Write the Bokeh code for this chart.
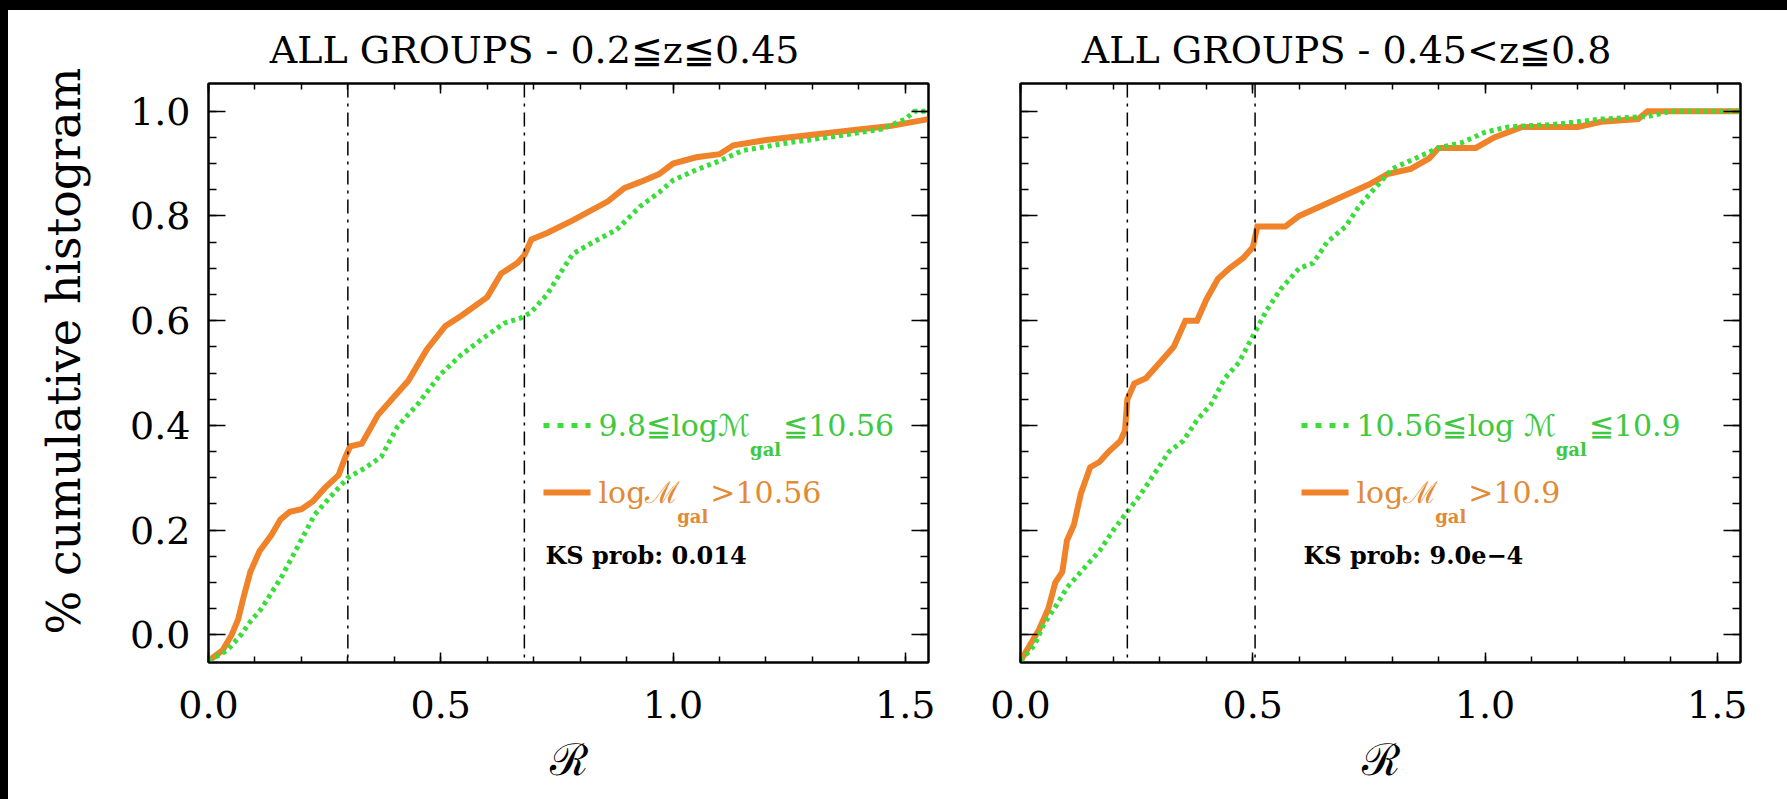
from bokeh.plotting import figure
from bokeh.models import Range1d, LinearAxis, FixedTicker, PrintfTickFormatter, CustomJSTickFormatter, Span, Label
from bokeh.layouts import row
from bokeh.embed import file_html
from bokeh.resources import INLINE

# ---------------- data ----------------
x_ticks = [0.0, 0.5, 1.0, 1.5]
x_minor = [0.0, 0.1, 0.2, 0.3, 0.4, 0.5, 0.6, 0.7, 0.8, 0.9, 1.0, 1.1, 1.2, 1.3, 1.4, 1.5]
y_ticks = [0.0, 0.2, 0.4, 0.6, 0.8, 1.0]
y_minor = [0.0, 0.05, 0.1, 0.15, 0.2, 0.25, 0.3, 0.35, 0.4, 0.45, 0.5, 0.55, 0.6, 0.65,
           0.7, 0.75, 0.8, 0.85, 0.9, 0.95, 1.0]

titles = ["ALL GROUPS - 0.2≦z≦0.45", "ALL GROUPS - 0.45<z≦0.8"]
y_label = "% cumulative histogram"
x_label = "ℛ"

# left panel (0.2<=z<=0.45)
left_R_high = [0.0, 0.03, 0.05, 0.064, 0.075, 0.09, 0.11, 0.135, 0.155, 0.175, 0.2, 0.225, 0.25,
               0.28, 0.295, 0.305, 0.33, 0.365, 0.4, 0.43, 0.47, 0.51, 0.545, 0.6, 0.63, 0.665,
               0.68, 0.695, 0.73, 0.785, 0.86, 0.895, 0.93, 0.97, 1.0, 1.05, 1.1, 1.13, 1.2,
               1.3, 1.4, 1.47, 1.55]
left_cum_high = [-0.05, -0.03, 0.0, 0.03, 0.07, 0.12, 0.16, 0.19, 0.22, 0.235, 0.24, 0.255, 0.28,
                 0.305, 0.34, 0.36, 0.365, 0.42, 0.455, 0.485, 0.545, 0.59, 0.61, 0.645, 0.69,
                 0.71, 0.725, 0.755, 0.768, 0.792, 0.828, 0.853, 0.865, 0.88, 0.9, 0.912, 0.918,
                 0.935, 0.945, 0.955, 0.965, 0.972, 0.985]
left_R_low = [0.0, 0.04, 0.07, 0.09, 0.114, 0.157, 0.193, 0.229, 0.264, 0.30, 0.336, 0.372, 0.407,
              0.45, 0.50, 0.543, 0.586, 0.636, 0.672, 0.693, 0.729, 0.764, 0.785, 0.828, 0.879,
              0.929, 0.97, 1.0, 1.05, 1.1, 1.15, 1.25, 1.35, 1.45, 1.5, 1.52, 1.55]
left_cum_low = [-0.05, -0.03, 0.0, 0.025, 0.05, 0.11, 0.17, 0.23, 0.265, 0.30, 0.318, 0.34, 0.398,
                0.44, 0.498, 0.534, 0.563, 0.595, 0.605, 0.615, 0.65, 0.70, 0.728, 0.75, 0.774,
                0.818, 0.845, 0.868, 0.888, 0.905, 0.925, 0.94, 0.952, 0.966, 0.985, 1.0, 1.0]
left_marks = [0.30, 0.68]

# right panel (0.45<z<=0.8)
right_R_high = [0.0, 0.02, 0.04, 0.06, 0.075, 0.09, 0.1, 0.115, 0.13, 0.15, 0.17, 0.19, 0.215,
                0.225, 0.23, 0.245, 0.27, 0.3, 0.33, 0.355, 0.38, 0.4, 0.425, 0.45, 0.48, 0.5,
                0.51, 0.57, 0.6, 0.65, 0.7, 0.75, 0.79, 0.84, 0.88, 0.9, 0.98, 1.02, 1.08, 1.2,
                1.25, 1.33, 1.35, 1.55]
right_cum_high = [-0.05, -0.02, 0.01, 0.05, 0.1, 0.12, 0.18, 0.21, 0.27, 0.32, 0.33, 0.35, 0.37,
                  0.39, 0.45, 0.48, 0.49, 0.52, 0.55, 0.6, 0.6, 0.64, 0.68, 0.7, 0.72, 0.74,
                  0.78, 0.78, 0.8, 0.82, 0.84, 0.86, 0.88, 0.89, 0.91, 0.93, 0.93, 0.95, 0.97,
                  0.97, 0.98, 0.985, 1.0, 1.0]
right_R_low = [0.0, 0.03, 0.05, 0.08, 0.1, 0.13, 0.17, 0.2, 0.23, 0.26, 0.29, 0.32, 0.35, 0.38,
               0.41, 0.44, 0.47, 0.5, 0.53, 0.56, 0.6, 0.63, 0.66, 0.7, 0.73, 0.76, 0.8, 0.85,
               0.9, 0.95, 1.0, 1.05, 1.15, 1.25, 1.35, 1.4, 1.55]
right_cum_low = [-0.05, -0.02, 0.02, 0.06, 0.09, 0.12, 0.16, 0.2, 0.235, 0.27, 0.31, 0.35, 0.37,
                 0.41, 0.44, 0.49, 0.52, 0.57, 0.62, 0.66, 0.7, 0.71, 0.75, 0.78, 0.82, 0.85,
                 0.89, 0.91, 0.93, 0.94, 0.96, 0.97, 0.975, 0.985, 0.99, 1.0, 1.0]
right_marks = [0.23, 0.505]

ks_texts = ["KS prob: 0.014", "KS prob: 9.0e−4"]

# ---------------- style ----------------
ORANGE = "#F0822A"
GREEN = "#3BDD3B"
ORANGE_TXT = "#E28A34"
GREEN_TXT = "#40C840"
FONT = "DejaVu Serif"
XMAX = 1.55
YMIN, YMAX = -0.053, 1.053
FW, FH = 720, 579
LEG_F = 30
SUB_F = 18

EM = {"0": .636, "1": .636, "2": .636, "3": .636, "4": .636, "5": .636, "6": .636, "7": .636,
      "8": .636, "9": .636, ".": .318, "≦": .838, ">": .838, "<": .838, "l": .32, "o": .602,
      "g": .635, "a": .596, " ": .318, "ℳ": 1.0, "A": .72, "L": .64, "G": .78, "R": .73,
      "O": .79, "U": .76, "P": .67, "S": .69, "-": .34, "z": .52}


def tw(s, size, k=1.0):
    return sum(EM.get(c, .6) for c in s) * size * k


def style_axis(ax, ticker, formatter, tick_in, minor_in, blank=False):
    ax.ticker = ticker
    ax.formatter = formatter
    ax.axis_line_color = "black"
    ax.axis_line_width = 2
    ax.major_tick_in = tick_in
    ax.major_tick_out = 0
    ax.minor_tick_in = minor_in
    ax.minor_tick_out = 0
    ax.major_tick_line_width = 1.5
    ax.minor_tick_line_width = 1.5
    ax.major_tick_line_color = "black"
    ax.minor_tick_line_color = "black"
    ax.major_label_text_font = FONT
    ax.major_label_text_color = "black"
    if blank:
        ax.major_label_text_font_size = "0px"
        ax.major_label_standoff = 0
    else:
        ax.major_label_text_font_size = "38px"


def legend_row(p, sx, sy, sample, main, sub, tail, color, txtcolor):
    x0 = sx / FW * XMAX
    x1 = (sx + 47) / FW * XMAX
    y = YMIN + sy / FH * (YMAX - YMIN)
    if sample == "dot":
        p.line([x0, x1], [y, y], line_color=color, line_width=5, line_dash="6 8")
    else:
        p.line([x0, x1], [y, y], line_color=color, line_width=6)
    tx = sx + 55
    p.add_layout(Label(x=tx, y=sy, x_units="screen", y_units="screen", text=main,
                       text_font=FONT, text_font_size=f"{LEG_F}px", text_color=txtcolor,
                       text_baseline="middle", text_align="left"))
    tx += tw(main, LEG_F) + 2
    p.add_layout(Label(x=tx, y=sy - 24, x_units="screen", y_units="screen", text=sub,
                       text_font=FONT, text_font_size=f"{SUB_F}px", text_font_style="bold",
                       text_color=txtcolor, text_baseline="middle", text_align="left"))
    tx += tw(sub, SUB_F, 1.08) + 3
    p.add_layout(Label(x=tx, y=sy, x_units="screen", y_units="screen", text=tail,
                       text_font=FONT, text_font_size=f"{LEG_F}px", text_color=txtcolor,
                       text_baseline="middle", text_align="left"))


def make_panel(idx, R_low, cum_low, R_high, cum_high, marks, leg, ks, first):
    if first:
        w, bl, br = 966, 200, 46
    else:
        w, bl, br = 813, 46, 47
    p = figure(width=w, height=789, x_range=Range1d(0, XMAX), y_range=Range1d(YMIN, YMAX),
               output_backend="svg", toolbar_location=None,
               min_border_left=bl, min_border_right=br, min_border_top=73, min_border_bottom=137)
    p.background_fill_color = "white"
    p.border_fill_color = "white"
    p.outline_line_color = "black"
    p.outline_line_width = 2
    p.xgrid.visible = False
    p.ygrid.visible = False

    # title (centre placed ~38 px left of the frame centre, as in the original)
    title_size = 38
    p.title.text = titles[idx]
    p.title.align = "left"
    p.title.offset = 322 - tw(titles[idx], title_size) / 2
    p.title.text_font = FONT
    p.title.text_font_size = f"{title_size}px"
    p.title.text_font_style = "normal"
    p.title.text_color = "black"
    p.title.vertical_align = "top"
    p.title.standoff = 20

    xt = FixedTicker(ticks=x_ticks, minor_ticks=x_minor)
    yt = FixedTicker(ticks=y_ticks, minor_ticks=y_minor)
    blank = CustomJSTickFormatter(code="return ''")

    xa = p.xaxis[0]
    style_axis(xa, xt, PrintfTickFormatter(format="%.1f"), 10, 6)
    xa.major_label_standoff = 28
    xa.axis_label = x_label
    xa.axis_label_text_font = FONT
    xa.axis_label_text_font_size = "44px"
    xa.axis_label_text_font_style = "normal"
    xa.axis_label_text_color = "black"
    xa.axis_label_standoff = 13

    ya = p.yaxis[0]
    if first:
        style_axis(ya, yt, PrintfTickFormatter(format="%.1f"), 17, 8)
        ya.major_label_standoff = 18
        # leading no-break spaces lift the label slightly above the frame centre, as in the original
        ya.axis_label = "\u00a0\u00a0\u00a0" + y_label
        ya.axis_label_text_font = FONT
        ya.axis_label_text_font_size = "46px"
        ya.axis_label_text_font_style = "normal"
        ya.axis_label_text_color = "black"
        ya.axis_label_standoff = 36
    else:
        style_axis(ya, yt, blank, 17, 8, blank=True)

    top = LinearAxis()
    style_axis(top, FixedTicker(ticks=x_ticks, minor_ticks=x_minor), blank, 10, 6, blank=True)
    p.add_layout(top, "above")
    right = LinearAxis()
    style_axis(right, FixedTicker(ticks=y_ticks, minor_ticks=y_minor), blank, 17, 8, blank=True)
    p.add_layout(right, "right")

    # curves
    p.line(R_high, cum_high, line_color=ORANGE, line_width=6, line_join="miter")
    p.line(R_low, cum_low, line_color=GREEN, line_width=5, line_dash="4 4")

    for m in marks:
        p.add_layout(Span(location=m, dimension="height", line_color="black",
                          line_width=1.5, line_dash="14 6 3 6"))

    sx = leg["sx"]
    legend_row(p, sx, 237, "dot", leg["g_main"], "gal", leg["g_tail"], GREEN, GREEN_TXT)
    legend_row(p, sx, 170, "solid", leg["o_main"], "gal", leg["o_tail"], ORANGE, ORANGE_TXT)
    p.add_layout(Label(x=sx + 2, y=107, x_units="screen", y_units="screen", text=ks,
                       text_font=FONT, text_font_size="24px", text_font_style="bold",
                       text_color="black", text_align="left", text_baseline="middle"))
    return p


leg_left = {"sx": 335, "g_main": "9.8≦logℳ", "g_tail": "≦10.56",
            "o_main": "logℳ", "o_tail": ">10.56"}
leg_right = {"sx": 281, "g_main": "10.56≦log ℳ", "g_tail": "≦10.9",
             "o_main": "logℳ", "o_tail": ">10.9"}

p1 = make_panel(0, left_R_low, left_cum_low, left_R_high, left_cum_high, left_marks,
                leg_left, ks_texts[0], True)
p2 = make_panel(1, right_R_low, right_cum_low, right_R_high, right_cum_high, right_marks,
                leg_right, ks_texts[1], False)

layout = row(p1, p2)
html = file_html(layout, INLINE, title="cumulative histograms")
css = ("<style>html,body{margin:0;padding:0;background:#fff;overflow:hidden;}"
       "body{border-top:10px solid #000;border-left:8px solid #000;}</style></head>")
html = html.replace("</head>", css, 1)
open("out.html", "w").write(html)
